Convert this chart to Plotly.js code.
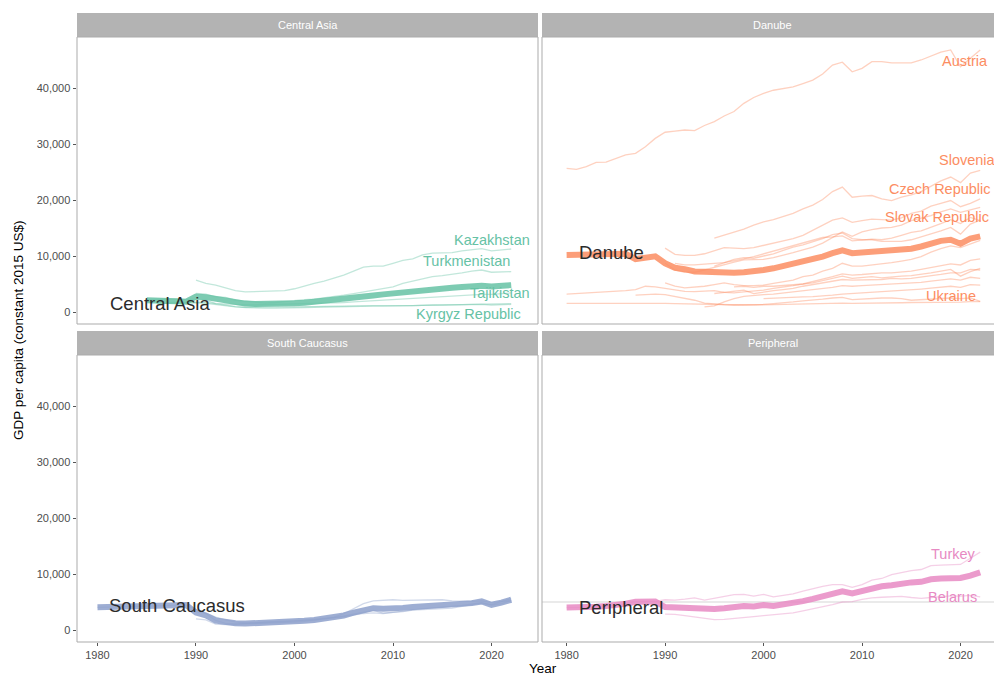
<!DOCTYPE html>
<html><head><meta charset="utf-8">
<script src="https://cdn.plot.ly/plotly-3.0.1.min.js"></script>
<style>html,body{margin:0;padding:0;background:#fff}#chart{width:994px;height:677px}</style>
</head><body><div id="chart"></div>
<script>
// ---------------- DATA (GDP per capita, constant 2015 US$) ----------------
const panelNames = ["Central Asia", "Danube", "South Caucasus", "Peripheral"];
const panelColors = ["#66c2a5", "#fc8d62", "#8da0cb", "#e78ac3"];

// Central Asia
const kazakhstanStart = 1990;
const kazakhstan = [5700,5100,4800,4300,3800,3600,3650,3700,3650,3800,4150,4650,5100,5500,6000,6600,7300,8000,8200,8200,8700,9200,9500,10200,10500,10500,10600,10900,11100,11300,10900,11100,11250];
const turkmenistanStart = 1990;
const turkmenistan = [3300,3200,2700,2600,2100,1900,1800,1600,1700,1900,2000,2200,2300,2500,2700,3000,3300,3600,4000,4200,4500,5100,5500,5900,6300,6500,6700,7000,7300,7500,7100,7200,7200];
const uzbekistanStart = 1987;
const uzbekistan = [1700,1750,1700,1750,1700,1500,1450,1300,1250,1250,1300,1300,1350,1350,1400,1450,1500,1600,1700,1800,1900,2000,2100,2200,2300,2450,2550,2700,2800,2900,2950,3050,3150,3150,3300,3400];
const kyrgyzStart = 1986;
const kyrgyz = [1500,1550,1600,1650,1650,1550,1300,1100,900,850,850,900,900,900,950,950,950,1000,1050,1000,1050,1100,1150,1150,1100,1150,1150,1250,1250,1250,1300,1300,1350,1350,1250,1300,1350];
const tajikistanStart = 1985;
const tajikistan = [2200,2300,2250,2300,2200,2300,2100,1500,1250,950,800,700,700,700,700,750,800,850,900,950,950,1000,1050,1050,1050,1050,1100,1150,1200,1200,1200,1250,1300,1350,1400,1400,1450,1500];
const centralAsiaMeanStart = 1985;
const centralAsiaMean = [2100,1950,1850,1900,1850,2750,2650,2300,2100,1600,1500,1450,1420,1400,1450,1550,1650,1800,1950,2100,2300,2550,2800,2950,3150,3350,3600,3800,4000,4150,4250,4350,4450,4600,4700,4550,4700,4800];

// Danube
const austriaStart = 1980;
const austria = [25660,25480,25950,26730,26750,27400,28040,28330,29500,31000,32100,32300,32500,32380,33300,34000,35000,35800,37260,38300,39050,39600,39900,40200,40800,41400,42500,44100,44600,42900,43500,44700,44700,44500,44500,44500,45000,45700,46400,46800,43800,45300,46800];
const sloveniaStart = 1995;
const slovenia = [13200,13700,14300,14800,15500,16100,16500,17100,17600,18400,19100,20100,21500,22300,20500,20700,20800,20200,19900,20500,20900,21500,22500,23400,24100,23100,24800,25300];
const czechStart = 1990;
const czech = [11400,10300,10100,10100,10400,11000,11500,11400,11300,11500,11900,12300,12600,13100,13700,14600,15600,16400,16800,16000,16300,16600,16500,16400,16800,17600,18000,18900,19400,19900,18800,19400,20200];
const slovakStart = 1990;
const slovak = [8700,7500,7100,7100,7500,8000,8500,8900,9300,9300,9400,9700,10100,10600,11100,11600,12300,13300,14300,13500,14300,14700,15000,15100,15500,16300,16700,17200,17900,18400,17800,18300,18700];
const hungaryStart = 1991;
const hungary = [8700,8400,8400,8600,8700,8800,9100,9500,9900,10400,10800,11300,11800,12300,12800,13300,13400,13600,12700,12800,13000,12900,13200,13700,14200,14500,15100,15800,16500,15800,16900,16300];
const croatiaStart = 1995;
const croatia = [8200,8800,9400,9700,9600,10000,10400,11000,11600,12000,12500,13100,13800,14100,13100,12900,12900,12600,12600,12600,12900,13400,14000,14500,15100,13900,15700,16400];
const romaniaStart = 1990;
const romania = [5200,4600,4300,4400,4600,4900,5200,4900,4700,4700,4800,5100,5400,5700,6300,6600,7300,7800,8700,8200,8200,8400,8500,8800,9100,9400,9900,10700,11300,11800,11500,12200,12800];
const bulgariaStart = 1980;
const bulgaria = [3200,3300,3400,3450,3550,3600,3800,4000,4600,4500,4200,3900,3700,3650,3700,3800,3500,3400,3600,3700,3900,4200,4400,4700,5000,5400,5800,6300,6800,6600,6700,6900,7000,7000,7100,7300,7600,7900,8200,8600,8400,9200,9500];
const montenegroStart = 1997;
const montenegro = [4500,4600,4400,4600,4600,4700,4800,5000,5200,5600,6000,6400,6000,6100,6300,6100,6300,6400,6500,6700,7000,7300,7600,6400,7200,7800];
const serbiaStart = 1995;
const serbia = [3300,3500,3800,3900,3300,3600,3800,4000,4200,4600,4900,5200,5500,5800,5700,5700,5800,5800,6000,5900,6000,6200,6400,6700,7000,7000,7600,7500];
const bosniaStart = 1994;
const bosnia = [900,1100,1800,2400,2800,3000,3100,3200,3400,3500,3700,3900,4100,4400,4700,4600,4700,4800,4800,4900,5000,5100,5300,5500,5700,5900,5700,6200,6000];
const kosovoStart = 2000;
const kosovo = [2400,2500,2550,2650,2700,2750,2850,3000,3200,3300,3400,3550,3600,3700,3800,3950,4100,4250,4400,4600,4400,4900,4800];
const ukraineStart = 1987;
const ukraine = [3000,3100,3200,3100,2800,2500,2100,1600,1400,1300,1250,1250,1250,1350,1500,1600,1800,2000,2100,2300,2500,2600,2200,2300,2500,2500,2500,2400,2100,2200,2300,2400,2500,2400,2500,1900];
const moldovaStart = 1980;
const moldova = [1550,1560,1570,1580,1590,1600,1600,1610,1620,1600,1550,1500,1450,1400,1350,1300,1300,1300,1250,1250,1300,1350,1400,1400,1450,1500,1500,1550,1600,1550,1550,1600,1600,1650,1650,1700,1700,1750,1750,1800,1750,1850,1850];
const danubeMeanStart = 1980;
const danubeMean = [10200,10200,10250,10250,10300,10300,10400,9450,9700,9950,8700,7900,7650,7250,7200,7100,6900,7000,7100,7200,7500,7800,8200,8600,9000,9400,9900,10500,11000,10500,10600,10700,10800,10900,11100,11300,11700,12200,12700,12900,12200,13100,13500];

// South Caucasus
const georgiaStart = 1980;
const georgia = [4050,4100,4150,4200,4250,4300,4350,4400,4450,4450,3700,2900,1700,1200,1100,1150,1300,1450,1500,1550,1600,1700,1800,2000,2150,2400,2650,2950,3050,2950,3150,3400,3650,3800,3950,4100,4200,4400,4650,4900,4550,5050,5600];
const armeniaStart = 1990;
const armenia = [2000,1800,1050,950,1000,1050,1100,1150,1250,1300,1400,1550,1750,2000,2200,2500,2850,3250,3500,3000,3100,3300,3550,3650,3800,3900,3900,4200,4450,4800,4450,4700,5300];
const azerbaijanStart = 1990;
const azerbaijan = [3300,3000,2300,1800,1450,1250,1250,1300,1400,1500,1600,1750,1900,2100,2300,2900,3800,4700,5200,5300,5400,5300,5300,5400,5400,5400,5200,5100,5100,5200,4900,5100,5200];
const caucasusMeanStart = 1980;
const caucasusMean = [4050,4100,4150,4200,4250,4300,4350,4400,4450,4450,3100,2600,1700,1350,1200,1150,1200,1250,1350,1450,1550,1650,1800,2000,2200,2600,3100,3600,3900,3800,3800,3950,4100,4200,4300,4350,4350,4600,4800,5100,4500,4900,5400];

// Peripheral
const turkeyStart = 1980;
const turkey = [4000,4000,4050,4150,4300,4400,4700,5050,5100,5100,5400,5350,5500,5750,5350,5650,5950,6300,6350,6050,6350,5900,6200,6450,6950,7400,7800,8100,8100,7600,8100,8900,9200,9900,10300,10600,10800,11500,11600,11600,11700,12800,13900];
const belarusStart = 1990;
const belarus = [2850,2800,2550,2300,2050,1850,1900,2100,2300,2400,2550,2700,2850,3050,3400,3750,4150,4550,5000,5050,5450,5750,5850,5900,6000,5800,5650,5800,6000,6100,6050,6200,5900];
const peripheralMeanStart = 1980;
const peripheralMean = [4000,4000,4050,4150,4300,4400,4700,5050,5100,5100,4100,4050,4000,4000,3700,3750,3900,4200,4300,4200,4450,4300,4500,4750,5150,5550,6000,6400,6900,6550,7000,7500,7800,8000,8300,8500,8600,9050,9200,9250,9300,9700,10300];
const peripheralRefLine = 5000;

const yTickVals = [0, 10000, 20000, 30000, 40000];
const xTickVals = [1980, 1990, 2000, 2010, 2020];

// ---------------- BUILD ----------------
const panels = [
  {name: panelNames[0], color: panelColors[0], ax: 1,
   countries: [[kazakhstanStart,kazakhstan],[turkmenistanStart,turkmenistan],[uzbekistanStart,uzbekistan],[kyrgyzStart,kyrgyz],[tajikistanStart,tajikistan]],
   mean: [centralAsiaMeanStart, centralAsiaMean]},
  {name: panelNames[1], color: panelColors[1], ax: 2,
   countries: [[austriaStart,austria],[sloveniaStart,slovenia],[czechStart,czech],[slovakStart,slovak],[hungaryStart,hungary],[croatiaStart,croatia],[romaniaStart,romania],[bulgariaStart,bulgaria],[montenegroStart,montenegro],[serbiaStart,serbia],[bosniaStart,bosnia],[kosovoStart,kosovo],[ukraineStart,ukraine],[moldovaStart,moldova]],
   mean: [danubeMeanStart, danubeMean]},
  {name: panelNames[2], color: panelColors[2], ax: 3,
   countries: [[georgiaStart,georgia],[armeniaStart,armenia],[azerbaijanStart,azerbaijan]],
   mean: [caucasusMeanStart, caucasusMean]},
  {name: panelNames[3], color: panelColors[3], ax: 4,
   countries: [[turkeyStart,turkey],[belarusStart,belarus]],
   mean: [peripheralMeanStart, peripheralMean]}
];

function rgba(hex, a) {
  const r = parseInt(hex.slice(1,3),16), g = parseInt(hex.slice(3,5),16), b = parseInt(hex.slice(5,7),16);
  return `rgba(${r},${g},${b},${a})`;
}
const axName = i => (i === 1 ? '' : String(i));

const traces = [];
panels.forEach(p => {
  p.countries.forEach(([s, v]) => {
    traces.push({x: v.map((_, i) => s + i), y: v, xaxis: 'x' + axName(p.ax), yaxis: 'y' + axName(p.ax),
      mode: 'lines', line: {color: rgba(p.color, 0.4), width: 1.3}, hoverinfo: 'skip', showlegend: false});
  });
});
panels.forEach(p => {
  const [s, v] = p.mean;
  traces.push({x: v.map((_, i) => s + i), y: v, xaxis: 'x' + axName(p.ax), yaxis: 'y' + axName(p.ax),
    mode: 'lines', line: {color: rgba(p.color, 0.85), width: 6}, hoverinfo: 'skip', showlegend: false});
});

// geometry (pixels)
const W = 994, H = 677, ML = 77, MR = 0, MT = 13, MB = 35;
const PW = W - ML - MR, PH = H - MT - MB;
const fx = px => (px - ML) / PW;
const fy = py => (H - MB - py) / PH;
const L = [77, 538], R = [542, 1003], T = [37, 324], B = [355, 642];
const stripH = 24;
const yRange = [-2143, 49107];
const xRangeL = [1977.92, 2024.72];
const xRangeR = [1977.5, 2023.4];

const tickFont = {family: 'Liberation Sans, Arial, sans-serif', size: 11, color: '#4d4d4d'};
function xa(dom, range, show) {
  return {domain: dom, range: range, tickvals: xTickVals, ticks: show ? 'outside' : '', ticklen: 3, tickcolor: '#555', tickwidth: 1,
    showticklabels: show, tickfont: tickFont, showgrid: false, zeroline: false, showline: false, fixedrange: true};
}
function ya(dom, show) {
  return {domain: dom, range: yRange, tickvals: yTickVals, tickformat: ',d', ticks: show ? 'outside' : '', ticklen: 3.5, tickcolor: '#555', tickwidth: 1,
    showticklabels: show, tickfont: tickFont, showgrid: false, zeroline: false, showline: false, fixedrange: true};
}
const domL = [fx(L[0]), fx(L[1])], domR = [fx(R[0]), 1];
const domT = [fy(T[1]), fy(T[0])], domB = [0, fy(B[0])];

const shapes = [];
const annotations = [];
const boxes = [[L, T], [R, T], [L, B], [R, B]];
boxes.forEach(([xb, yb], i) => {
  shapes.push({type: 'rect', xref: 'paper', yref: 'paper', x0: fx(xb[0]), x1: fx(xb[1]), y0: fy(yb[0]), y1: fy(yb[0] - stripH),
    fillcolor: '#b3b3b3', line: {width: 0}, layer: 'below'});
  annotations.push({xref: 'paper', yref: 'paper', x: fx((xb[0] + xb[1]) / 2), y: fy(yb[0] - stripH / 2),
    text: panelNames[i], showarrow: false, font: {family: 'Liberation Sans, Arial, sans-serif', size: 11, color: '#ffffff'}, xanchor: 'center', yanchor: 'middle'});
  shapes.push({type: 'rect', xref: 'paper', yref: 'paper', x0: fx(xb[0]), x1: fx(xb[1]), y0: fy(yb[1]), y1: fy(yb[0]),
    line: {color: '#ababab', width: 1}, fillcolor: 'rgba(0,0,0,0)', layer: 'above'});
});
shapes.push({type: 'line', xref: 'x4 domain', yref: 'y4', x0: 0, x1: 1, y0: peripheralRefLine, y1: peripheralRefLine,
  line: {color: '#e3e3e3', width: 1.6}, layer: 'below'});

const lblFont = (c, s) => ({family: 'Liberation Sans, Arial, sans-serif', size: s, color: c});
function lab(ax, text, x, y, anchor, color, size) {
  annotations.push({xref: 'x' + axName(ax), yref: 'y' + axName(ax), x: x, y: y, text: text, showarrow: false,
    xanchor: anchor, yanchor: 'middle', font: lblFont(color, size)});
}
const cs = 14.5, gs = 18.5, gc = '#2b2b2b';
lab(1, 'Kazakhstan', 2024.1, 12860, 'right', panelColors[0], cs);
lab(1, 'Turkmenistan', 2022.1, 9110, 'right', panelColors[0], cs);
lab(1, 'Tajikistan', 2024.1, 3390, 'right', panelColors[0], cs);
lab(1, 'Kyrgyz Republic', 2023.2, -360, 'right', panelColors[0], cs);
lab(1, 'Central Asia', 1981.05, 1430, 'left', gc, gs);
lab(2, 'Austria', 2023.0, 44820, 'right', panelColors[1], cs);
lab(2, 'Slovenia', 2017.6, 27140, 'left', panelColors[1], cs);
lab(2, 'Czech Republic', 2012.5, 21960, 'left', panelColors[1], cs);
lab(2, 'Slovak Republic', 2012.1, 16960, 'left', panelColors[1], cs);
lab(2, 'Ukraine', 2021.8, 2860, 'right', panelColors[1], cs);
lab(2, 'Danube', 1981.05, 10710, 'left', gc, gs);
lab(3, 'South Caucasus', 1981.0, 4300, 'left', gc, gs);
lab(4, 'Turkey', 2021.8, 13550, 'right', panelColors[3], cs);
lab(4, 'Belarus', 2021.9, 5900, 'right', panelColors[3], cs);
lab(4, 'Peripheral', 1981.05, 3950, 'left', gc, gs);

annotations.push({xref: 'paper', yref: 'paper', x: fx(18), y: fy(330), text: 'GDP per capita (constant 2015 US$)', textangle: -90,
  showarrow: false, xanchor: 'center', yanchor: 'middle', font: lblFont('#000000', 13.5)});
annotations.push({xref: 'paper', yref: 'paper', x: fx(543), y: fy(677), text: 'Year', borderpad: 0,
  showarrow: false, xanchor: 'center', yanchor: 'bottom', font: lblFont('#000000', 13.5)});

const layout = {
  width: W, height: H, margin: {l: ML, r: MR, t: MT, b: MB, pad: 0},
  paper_bgcolor: '#ffffff', plot_bgcolor: '#ffffff', showlegend: false,
  font: {family: 'Liberation Sans, Arial, sans-serif'},
  xaxis: xa(domL, xRangeL, false), yaxis: ya(domT, true),
  xaxis2: xa(domR, xRangeR, false), yaxis2: ya(domT, false),
  xaxis3: xa(domL, xRangeL, true), yaxis3: ya(domB, true),
  xaxis4: xa(domR, xRangeR, true), yaxis4: ya(domB, false),
  shapes: shapes, annotations: annotations
};
layout.xaxis.anchor = 'y'; layout.yaxis.anchor = 'x';
layout.xaxis2.anchor = 'y2'; layout.yaxis2.anchor = 'x2';
layout.xaxis3.anchor = 'y3'; layout.yaxis3.anchor = 'x3';
layout.xaxis4.anchor = 'y4'; layout.yaxis4.anchor = 'x4';

Plotly.newPlot('chart', traces, layout, {displayModeBar: false, staticPlot: true});
</script></body></html>
